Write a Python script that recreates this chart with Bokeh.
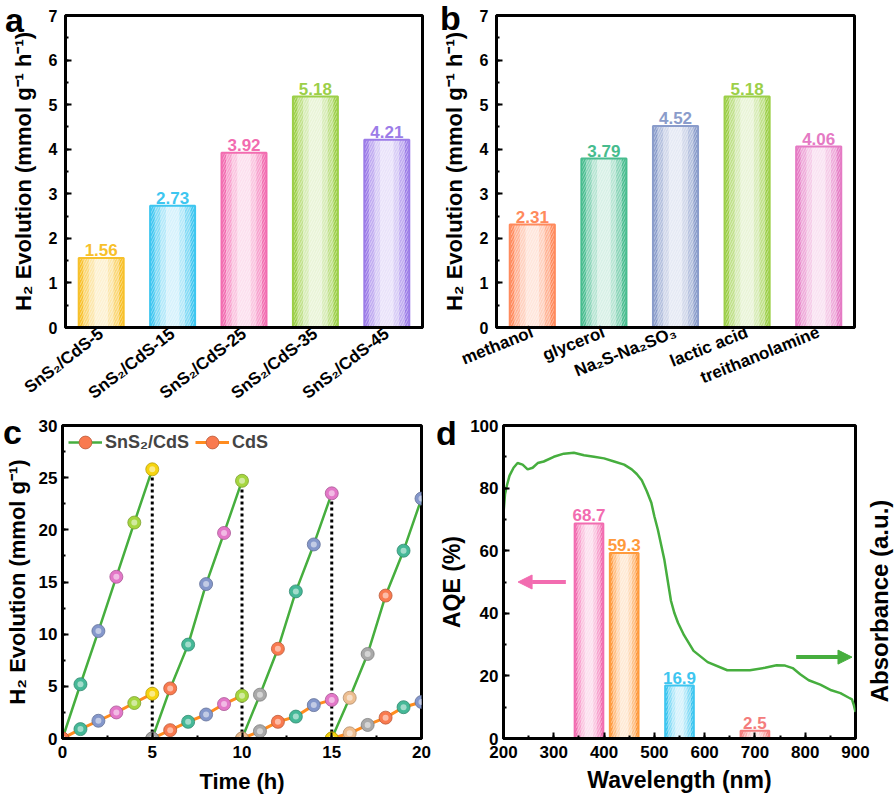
from bokeh.plotting import figure
from bokeh.layouts import row, column
from bokeh.models import (ColumnDataSource, Range1d, FactorRange, Div,
                          Legend, LegendItem, Arrow, NormalHead, SingleIntervalTicker)
from bokeh.core.properties import value
from bokeh.embed import file_html
from bokeh.resources import INLINE

FONT = "Liberation Sans"

# ---------------- data ----------------
# panel a
A_CATS = ["SnS₂/CdS-5", "SnS₂/CdS-15", "SnS₂/CdS-25", "SnS₂/CdS-35", "SnS₂/CdS-45"]
A_VALS = [1.56, 2.73, 3.92, 5.18, 4.21]
A_COLORS = ["#F7C02A", "#3EC6F0", "#F26CB0", "#9CCF48", "#9C7CE8"]

# panel b
B_CATS = ["methanol", "glycerol", "Na₂S-Na₂SO₃", "lactic acid", "treithanolamine"]
B_VALS = [2.31, 3.79, 4.52, 5.18, 4.06]
B_COLORS = ["#FF8A5C", "#47BC8E", "#8A9CCB", "#9CCF48", "#E57AC4"]

# panel c (cycles of 5 h)
C_TIME = [[0, 1, 2, 3, 4, 5],
          [5, 6, 7, 8, 9, 10],
          [10, 11, 12, 13, 14, 15],
          [15, 16, 17, 18, 19, 20]]
C_SNS2 = [[0, 5.2, 10.3, 15.5, 20.7, 25.8],
          [0, 4.8, 9.0, 14.8, 19.7, 24.7],
          [0, 4.2, 8.6, 14.1, 18.6, 23.5],
          [0, 3.9, 8.1, 13.7, 18.0, 23.0]]
C_CDS = [[0, 0.9, 1.7, 2.5, 3.4, 4.3],
         [0, 0.8, 1.6, 2.3, 3.3, 4.1],
         [0, 0.7, 1.6, 2.1, 3.2, 3.7],
         [0, 0.5, 1.3, 2.0, 3.0, 3.5]]
BALL_COLORS = [["#F97A4F", "#45B897", "#8497CB", "#E377C8", "#A5D63F", "#F6D40F"],
               ["#A9A9A9", "#F97A4F", "#45B897", "#8497CB", "#E377C8", "#A5D63F"],
               ["#EDBE91", "#A9A9A9", "#F97A4F", "#45B897", "#8497CB", "#E377C8"],
               ["#F6D40F", "#EDBE91", "#A9A9A9", "#F97A4F", "#45B897", "#8497CB"]]
C_LABELS = ["SnS₂/CdS", "CdS"]

# panel d
D_WL = [370, 440, 550, 700]
D_AQE = [68.7, 59.3, 16.9, 2.5]
D_COLORS = ["#F26CB0", "#FF9A3C", "#3EC6F0", "#F47C7C"]
ABS_WL = [200, 203, 207, 212, 220, 228, 238, 248, 258, 268, 280, 300, 320, 340, 360,
          380, 400, 420, 440, 455, 465, 475, 485, 494, 500, 507, 514, 520, 527, 533,
          540, 547, 559, 578, 606, 645, 690, 720, 743, 760, 775, 790, 807, 830, 852,
          870, 886, 893, 897, 900]
ABS_VAL = [72, 78, 81, 84, 86.5, 88, 87.5, 86, 86.5, 88, 88.5, 90, 91, 91.3, 90.5,
           90, 89.5, 88.5, 87.5, 86, 84.5, 82.5, 79, 75.3, 71, 66.7, 61.5, 57, 50, 44,
           40, 37, 33, 28, 24.4, 21.8, 21.8, 22.6, 23.4, 23.3, 22.5, 20.5, 18.6, 17.2, 15.4,
           14.5, 13.1, 12.5, 10.5, 8.5]
D_RIGHT_LABEL = "Absorbance (a.u.)"

GREEN = "#46AE3E"
ORANGE_LINE = "#FF8C1F"
PINK = "#F26CB0"

# arrow annotations (x_start, x_end, y)
ARROW_AQE = (324, 229, 50)
ARROW_ABS = (782, 893, 26)

# panel letters: (text, left px, top px) on the page
LETTERS = [("a", 5, 3), ("b", 440, 1), ("c", 3, 415), ("d", 436, 416)]
# centre of the rotated right-hand label of panel d, on the page
RIGHT_LABEL_POS = (880, 601)


def mix(c, t, target=255):
    c = c.lstrip("#")
    rgb = [int(c[i:i + 2], 16) for i in (0, 2, 4)]
    return "#%02x%02x%02x" % tuple(round(v + (target - v) * t) for v in rgb)


def gradient_bars(p, xs, tops, colors, width):
    src = ColumnDataSource(dict(x=xs, top=tops, c0=colors,
                                c1=[mix(c, 0.35) for c in colors],
                                c2=[mix(c, 0.6) for c in colors],
                                c3=[mix(c, 0.78) for c in colors]))
    p.vbar(x="x", top="top", width=width, fill_color="c0", line_color=None, source=src)
    p.vbar(x="x", top="top", width=width * 0.8, fill_color="c1", line_color=None, source=src)
    p.vbar(x="x", top="top", width=width * 0.55, fill_color="c2", line_color=None, source=src)
    p.vbar(x="x", top="top", width=width * 0.3, fill_color="c3", line_color=None, source=src)
    p.vbar(x="x", top="top", width=width, fill_alpha=0, hatch_pattern="/",
           hatch_color="white", hatch_alpha=0.45, hatch_scale=5, hatch_weight=1,
           line_color="c0", line_width=2, source=src)


def value_labels(p, xs, ys, colors, fmt):
    src = ColumnDataSource(dict(x=xs, y=ys, t=[fmt.format(v) for v in ys], c=colors))
    p.text(x="x", y="y", text="t", text_color="c", text_font=value(FONT),
           text_font_style="bold", text_font_size="17px", text_align="center",
           text_baseline="bottom", y_offset=-2, source=src)


def style(p, tick_size="16px", label_size="22px"):
    p.outline_line_color = "black"
    p.outline_line_width = 3
    p.outline_line_alpha = 1
    p.xgrid.grid_line_color = None
    p.ygrid.grid_line_color = None
    for ax in p.axis:
        ax.axis_line_color = "black"
        ax.axis_line_width = 3
        ax.major_tick_in = 6
        ax.major_tick_out = 0
        ax.major_tick_line_width = 2
        ax.minor_tick_in = 3
        ax.minor_tick_out = 0
        ax.minor_tick_line_width = 2
        ax.major_label_text_font = FONT
        ax.major_label_text_font_style = "bold"
        ax.major_label_text_font_size = tick_size
        ax.major_label_text_color = "black"
        ax.axis_label_text_font = FONT
        ax.axis_label_text_font_style = "bold"
        ax.axis_label_text_font_size = label_size
        ax.axis_label_text_color = "black"


def bar_panel(cats, vals, colors, width, height, borders, angle):
    p = figure(width=width, height=height, x_range=FactorRange(*cats),
               y_range=Range1d(0, 7), output_backend="svg", toolbar_location=None,
               min_border_left=borders[0], min_border_right=borders[1],
               min_border_top=borders[2], min_border_bottom=borders[3])
    gradient_bars(p, cats, vals, colors, 0.63)
    value_labels(p, cats, vals, colors, "{:.2f}")
    p.yaxis.ticker = SingleIntervalTicker(interval=1, num_minor_ticks=2)
    p.yaxis.axis_label = "H₂ Evolution (mmol g⁻¹ h⁻¹)"
    style(p)
    p.xaxis.major_tick_line_color = None
    p.xaxis.minor_tick_line_color = None
    p.xaxis.major_label_orientation = angle
    p.xaxis.major_label_text_font_size = "17px"
    p.xaxis.major_label_standoff = 4
    p.yaxis.major_label_standoff = 8
    p.yaxis.axis_label_standoff = 10
    return p


# ---------------- panel a ----------------
pa = bar_panel(A_CATS, A_VALS, A_COLORS, 436, 418, (65, 14, 15, 91), 0.66)

# ---------------- panel b ----------------
pb = bar_panel(B_CATS, B_VALS, B_COLORS, 456, 418, (60, 38, 15, 91), 0.38)

# ---------------- panel c ----------------
pc = figure(width=436, height=384, x_range=Range1d(0, 20), y_range=Range1d(0, 30),
            output_backend="svg", toolbar_location=None,
            min_border_left=62, min_border_right=15, min_border_top=7, min_border_bottom=64)
cds_r = pc.multi_line(xs=C_TIME, ys=C_CDS, line_color=ORANGE_LINE, line_width=3)
sns_r = pc.multi_line(xs=C_TIME, ys=C_SNS2, line_color=GREEN, line_width=2.5)
pc.segment(x0=[t[-1] for t in C_TIME[:3]], y0=[0, 0, 0],
           x1=[t[-1] for t in C_TIME[:3]], y1=[s[-1] for s in C_SNS2[:3]],
           line_color="black", line_width=3, line_dash="3 3")
bx, by, bc = [], [], []
for ts, ss, cs, cols in zip(C_TIME, C_SNS2, C_CDS, BALL_COLORS):
    for t, s, c, col in zip(ts, ss, cs, cols):
        bx += [t, t]
        by += [c, s]
        bc += [col, col]
ball_src = ColumnDataSource(dict(x=bx, y=by, c=bc,
                                 e=[mix(c, 0.25, 0) for c in bc],
                                 l=[mix(c, 0.5) for c in bc]))
ball_r = pc.scatter(x="x", y="y", size=13, fill_color="c", line_color="e",
                    line_width=0.8, source=ball_src)
hl_r = pc.scatter(x="x", y="y", size=6, fill_color="l", line_color=None, source=ball_src)
legend = Legend(items=[LegendItem(label=C_LABELS[0], renderers=[sns_r, ball_r], index=0),
                       LegendItem(label=C_LABELS[1], renderers=[cds_r, ball_r], index=0)],
                orientation="horizontal", location=(6, 280), glyph_width=34, glyph_height=32,
                label_standoff=3, spacing=6, padding=0, margin=0,
                label_text_font=FONT, label_text_font_style="bold", label_text_font_size="18px",
                background_fill_alpha=0, border_line_alpha=0)
pc.add_layout(legend)
pc.xaxis.ticker = SingleIntervalTicker(interval=5, num_minor_ticks=2)
pc.yaxis.ticker = SingleIntervalTicker(interval=5, num_minor_ticks=2)
pc.xaxis.axis_label = "Time (h)"
pc.yaxis.axis_label = "H₂ Evolution (mmol g⁻¹)"
style(pc, tick_size="17px", label_size="22px")
pc.yaxis.major_label_standoff = 5
pc.yaxis.axis_label_standoff = 6
pc.xaxis.major_label_standoff = 7
pc.xaxis.axis_label_standoff = 8

# ---------------- panel d ----------------
pdd = figure(width=456, height=384, x_range=Range1d(200, 900), y_range=Range1d(0, 100),
             output_backend="svg", toolbar_location=None,
             min_border_left=62, min_border_right=37, min_border_top=7, min_border_bottom=64)
pdd.extra_y_ranges = {"abs": Range1d(0, 100)}
gradient_bars(pdd, D_WL, D_AQE, D_COLORS, 57)
value_labels(pdd, D_WL, D_AQE, D_COLORS, "{:.1f}")
pdd.line(ABS_WL, ABS_VAL, y_range_name="abs", line_color=GREEN, line_width=2.5)
pdd.add_layout(Arrow(end=NormalHead(size=14, fill_color=PINK, line_color=PINK),
                     x_start=ARROW_AQE[0], x_end=ARROW_AQE[1], y_start=ARROW_AQE[2],
                     y_end=ARROW_AQE[2], line_color=PINK, line_width=4))
pdd.add_layout(Arrow(end=NormalHead(size=14, fill_color=GREEN, line_color=GREEN),
                     x_start=ARROW_ABS[0], x_end=ARROW_ABS[1], y_start=ARROW_ABS[2],
                     y_end=ARROW_ABS[2], line_color=GREEN, line_width=4))
pdd.xaxis.ticker = SingleIntervalTicker(interval=100, num_minor_ticks=2)
pdd.yaxis.ticker = SingleIntervalTicker(interval=20, num_minor_ticks=2)
pdd.xaxis.axis_label = "Wavelength (nm)"
pdd.yaxis.axis_label = "AQE (%)"
style(pdd, tick_size="17px", label_size="23px")
pdd.yaxis.major_label_standoff = 5
pdd.yaxis.axis_label_standoff = 2
pdd.xaxis.major_label_standoff = 7
pdd.xaxis.axis_label_standoff = 6

# ---------------- panel letters and right-hand label ----------------
common = {"position": "absolute", "font-family": FONT, "font-weight": "bold",
          "line-height": "1", "color": "black", "z-index": "10", "margin": "0",
          "padding": "0", "white-space": "nowrap"}
overlays = [Div(text=t, styles=dict(common, left=f"{x}px", top=f"{y}px",
                                    **{"font-size": "34px"}))
            for t, x, y in LETTERS]
overlays.append(Div(text=D_RIGHT_LABEL,
                    styles=dict(common, left=f"{RIGHT_LABEL_POS[0]}px",
                                top=f"{RIGHT_LABEL_POS[1]}px",
                                transform="translate(-50%, -50%) rotate(-90deg)",
                                **{"font-size": "24px"})))

layout = column(row(pa, pb), row(pc, pdd), *overlays)
open("out.html", "w").write(file_html(layout, INLINE))
